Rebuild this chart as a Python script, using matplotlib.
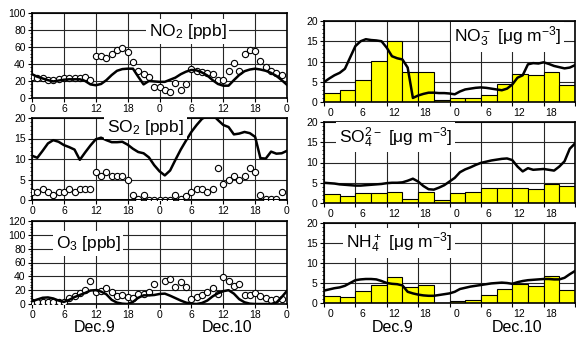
import numpy as np
import matplotlib.pyplot as plt
from matplotlib.ticker import MultipleLocator, NullLocator
from matplotlib.transforms import ScaledTranslation

plt.rcParams['font.family'] = ['Liberation Sans', 'DejaVu Sans']
plt.rcParams['mathtext.default'] = 'regular'

# horas (0-48) de Dec.9 00h a Dec.11 00h
hours = np.arange(49)
obs_hours = np.arange(48)
bar_start = np.arange(0, 48, 3)
tick_labels = ["0", "6", "12", "18", "0", "6", "12", "18", "0"]

# gases: circulos = observado, linha = modelo
no2_obs = [25, 23, 24, 21.5, 21.5, 22, 23, 23, 24, 23, 25, 21, 49, 49, 47, 52,
           56, 59, 54, 42, 32, 28, 25, 13, 12.5, 10, 7, 17.5, 10, 16, 34, 32,
           31, 30, 28, 21, 21, 32, 41, 32, 52, 57, 55, 44, 37, 32, 30, 27]
no2_mod = [28, 25, 23, 21, 19.5, 20.5, 21.5, 22, 22, 22, 20, 16, 15, 16.5, 21,
           27, 32, 34, 34.5, 34.5, 25, 16, 20, 19.5, 19, 19, 21.5, 24, 28, 31,
           33, 32.5, 30, 26.5, 21, 16.5, 14.5, 14.5, 21, 27, 31.5, 33.5, 34.5,
           33.5, 32, 29.5, 26, 21, 15.5]

so2_obs = [1.9, 1.9, 2.8, 1.9, 1.1, 1.9, 1.9, 2.8, 1.9, 2.8, 2.8, 2.8, 6.9, 5.9,
           6.9, 5.9, 5.9, 5.9, 4.9, 1.1, 0.2, 1.1, 0.1, 0.1, 0.1, 0.1, 0.1, 1.1,
           0.2, 1.0, 1.9, 2.8, 2.8, 1.9, 2.8, 7.9, 3.9, 4.9, 5.9, 4.9, 5.9, 7.9,
           6.9, 1.1, 0.2, 0.2, 0.2, 1.9]
so2_mod = [10.8, 10.3, 12, 13.8, 14.6, 14.2, 13.4, 12.9, 12.3, 9.8, 11.6, 13.3,
           14.8, 15.2, 14.6, 14.1, 14.1, 14.2, 13.5, 12.5, 11.7, 11.4, 10.4, 8.5,
           7, 6, 7.2, 9.8, 12.3, 14.5, 16.6, 18.3, 19.8, 20.5, 20.8, 19.5, 18.3,
           17.8, 16, 16.2, 16.6, 16.3, 15.4, 10.2, 10.1, 11.8, 11.3, 11.4, 12]

o3_obs = [2.4, 2.4, 2.4, 2.4, 2.4, 2.4, 2.4, 8.5, 11.6, 16.4, 20, 33, 17, 18.8,
          22.6, 17.8, 11.6, 13, 10.6, 9.1, 14, 14, 16.9, 29, np.nan, 33, 36, 25,
          32, 24, 6.7, 10.6, 13, 17.8, 23.6, 14, 38.5, 33, 26, 28.4, 13, 13,
          16.4, 11.6, 8.2, 5.8, 7.2, 6.7]
o3_mod = [4, 6.5, 9, 9.5, 8, 5, 3, 6, 10, 13, 16, 19.5, 20, 18, 14, 6, 2, 0.5,
          0, 3, 9, 12.5, 12.5, 13, 14.5, 15, 12, 8.5, 5, 2, 0.5, 0, 1.5, 5, 11,
          15.5, 18.5, 20, 15, 7, 2.5, 0.5, 0, 0, 0, 0, 2, 10, 19]

# aerossol: barras = observado (3 h), linha = modelo
no3_obs = [2.1, 2.9, 5.5, 10.2, 15.1, 7.3, 7.4, 0.4, 1.0, 1.0, 1.8, 4.4, 7.0,
           6.6, 7.3, 4.1]
no3_mod = [4.9, 5.8, 6.6, 7.2, 8.2, 11, 13.8, 15, 15.5, 15.3, 15.2, 15, 13.4,
           11.3, 10.8, 10.5, 8.5, 1, 1.6, 2, 2.3, 2.3, 2.2, 2.2, 2.1, 1.9, 2.6,
           3.1, 3.3, 3.5, 3.6, 3.5, 3.3, 3.1, 2.9, 3.3, 4.3, 6, 6.6, 9.3, 9.6,
           9.5, 9.8, 9.4, 8.9, 8.6, 8.3, 8.5, 9.1]

so4_obs = [2.2, 1.8, 2.4, 2.4, 2.6, 1.0, 2.7, 0.7, 2.4, 2.7, 3.7, 3.7, 3.7, 3.5,
           4.7, 4.2]
so4_mod = [5.0, 4.9, 4.8, 4.6, 4.5, 4.4, 4.3, 4.3, 4.4, 4.5, 4.6, 4.7, 4.9, 5.0,
           5.0, 5.1, 5.5, 6.0, 5.3, 4.2, 3.4, 3.3, 3.8, 4.4, 5.3, 6.2, 7.6, 8.3,
           8.8, 9.4, 9.9, 10.2, 10.5, 10.7, 10.9, 11.0, 10.6, 9.0, 7.8, 8.6, 8.2,
           8.3, 8.4, 8.2, 8.0, 9.0, 10.3, 13.4, 14.7]

nh4_obs = [1.65, 1.4, 3.1, 4.5, 6.6, 4.1, 4.5, np.nan, 0.6, 0.8, 2.1, 3.6, 4.8,
           4.3, 6.8, 3.3]
nh4_mod = [3.1, 3.4, 3.7, 3.9, 4.3, 5.0, 5.7, 5.9, 6.0, 6.0, 5.9, 5.5, 5.0, 4.8,
           4.7, 4.4, 2.8, 2.4, 2.1, 1.9, 1.8, 1.8, 2.0, 2.2, 2.4, 2.8, 3.5, 3.8,
           4.1, 4.3, 4.5, 4.7, 4.9, 5.0, 5.1, 5.0, 4.8, 5.2, 5.5, 5.7, 5.8, 5.9,
           6.0, 6.0, 5.9, 5.9, 6.3, 7.2, 8.0]

W, H = 576, 339
fig = plt.figure(figsize=(W / 100, H / 100), dpi=100)


def px_axes(x0, x1, y0, y1):
    return fig.add_axes([x0 / W, 1 - y1 / H, (x1 - x0) / W, (y1 - y0) / H])


def base(ax, ymax, ymaj, ymin):
    ax.set_xlim(0, 48)
    ax.set_ylim(0, ymax)
    ax.xaxis.set_major_locator(MultipleLocator(6))
    ax.xaxis.set_minor_locator(NullLocator())
    ax.yaxis.set_major_locator(MultipleLocator(ymaj))
    ax.yaxis.set_minor_locator(MultipleLocator(ymin))
    ax.set_axisbelow(True)
    ax.grid(True, which='major', color='0.15', lw=0.8)
    ax.tick_params(which='major', length=3, width=0.8, labelsize=7.5, pad=1.5,
                   colors='black')
    ax.tick_params(which='minor', length=1.5, width=0.6)
    for s in ax.spines.values():
        s.set_linewidth(1.2)


def label(ax, txt, x, y):
    ax.text(x, y, txt, transform=ax.transAxes, ha='center', va='center',
            fontsize=12.5, zorder=5,
            bbox=dict(facecolor='white', edgecolor='none', pad=2))


# --- gases (esquerda) ---
gases = [
    (no2_obs, no2_mod, 100, 20, 4, "NO$_2$ [ppb]", 0.61, 0.78, (13, 98)),
    (so2_obs, so2_mod, 20, 5, 1, "SO$_2$ [ppb]", 0.445, 0.89, (118, 200)),
    (o3_obs, o3_mod, 120, 20, 4, "O$_3$ [ppb]", 0.22, 0.73, (221, 304)),
]
for obs, mod, ymax, ymaj, ymin, txt, lx, ly, (y0, y1) in gases:
    ax = px_axes(32, 287, y0, y1)
    base(ax, ymax, ymaj, ymin)
    ax.plot(obs_hours, obs, 'o', ms=4.5, mfc='white', mec='black', mew=0.8,
            zorder=3)
    ax.plot(hours, mod, color='black', lw=1.8, zorder=4)
    ax.set_xticks(np.arange(0, 49, 6), tick_labels)
    if ymax == 20:
        ax.axhline(0, color='black', lw=2.2, zorder=4)
    label(ax, txt, lx, ly)

# --- aerossol (direita) ---
aer = [
    (no3_obs, no3_mod, "NO$_3^-$ [μg m$^{-3}$]", 0.73, 0.80, (21, 102)),
    (so4_obs, so4_mod, "SO$_4^{2-}$ [μg m$^{-3}$]", 0.285, 0.81, (122, 203)),
    (nh4_obs, nh4_mod, "NH$_4^+$ [μg m$^{-3}$]", 0.30, 0.75, (223, 303)),
]
shift = ScaledTranslation(7 / 100, 0, fig.dpi_scale_trans)
for obs, mod, txt, lx, ly, (y0, y1) in aer:
    ax = px_axes(324, 575, y0, y1)
    base(ax, 20, 5, 1)
    ax.bar(bar_start, obs, width=3, align='edge', color='#ffff00',
           edgecolor='black', lw=0.8, zorder=2)
    ax.plot(hours, mod, color='black', lw=1.8, zorder=4)
    ax.set_xticks(np.arange(0, 49, 6), tick_labels[:-1] + [""])
    for lab in ax.get_xticklabels():
        lab.set_transform(lab.get_transform() + shift)
    label(ax, txt, lx, ly)

for x, t in [(95, "Dec.9"), (227, "Dec.10"), (393, "Dec.9"), (517, "Dec.10")]:
    fig.text(x / W, 1 - 328 / H, t, ha='center', va='center', fontsize=11.5)

plt.savefig("out.png", dpi=100)
